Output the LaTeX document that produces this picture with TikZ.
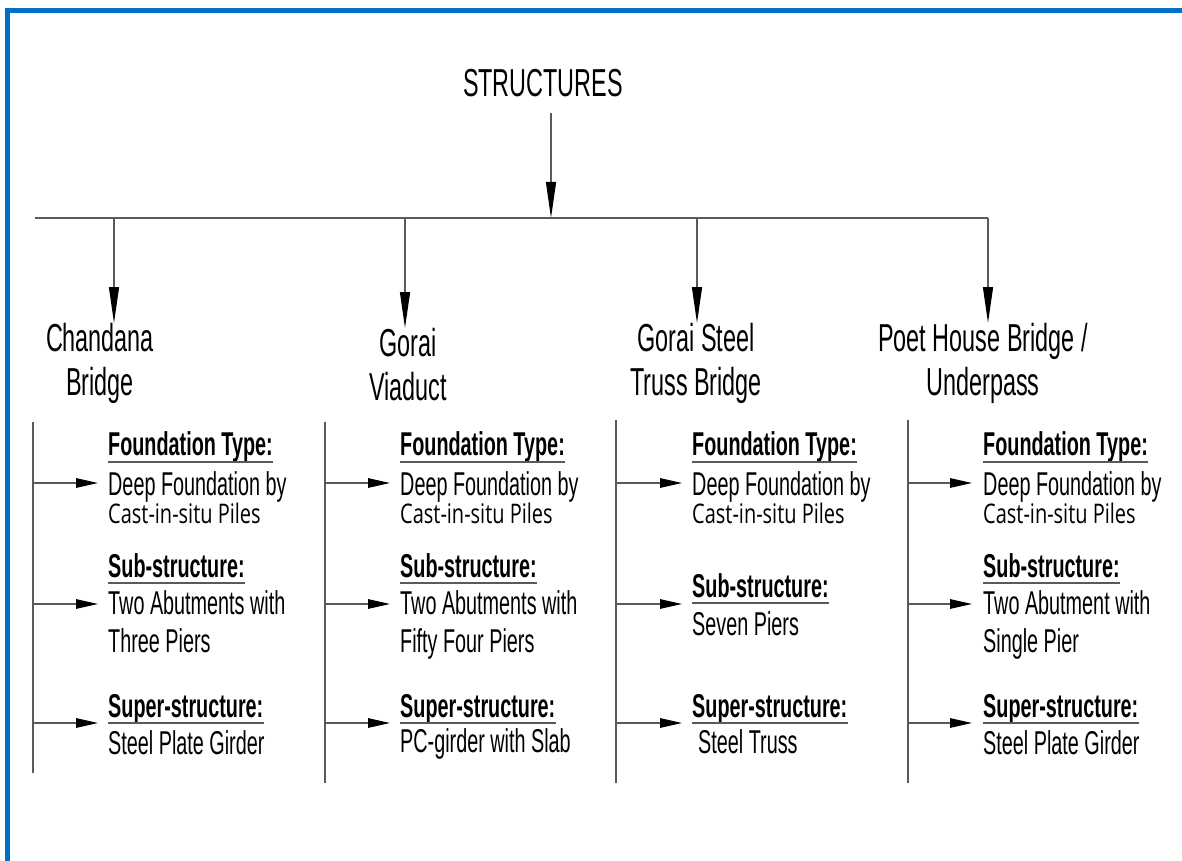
\documentclass[tikz,border=0pt]{standalone}
\usepackage{fontspec}
\setmainfont{Liberation Sans}
\newfontfamily\narrowfont[FakeStretch=0.6]{Liberation Sans}
\newfontfamily\pilefont[FakeStretch=0.74]{Open Sans}
\usetikzlibrary{arrows.meta}

\definecolor{framebl}{RGB}{0,114,198}
\definecolor{linegr}{RGB}{90,90,90}

\tikzset{
  wire/.style={draw=linegr, line width=1.3pt},
  drop/.style={wire, -{Triangle[length=36pt,width=10pt,color=black]}},
  feed/.style={wire, -{Triangle[length=22pt,width=9.5pt,color=black]}},
  ttl/.style={inner sep=0pt, align=center, font=\narrowfont\fontsize{39}{44}\selectfont},
  head/.style={inner sep=0pt, anchor=base west, font=\narrowfont\bfseries\fontsize{33}{38}\selectfont},
  body/.style={inner sep=0pt, anchor=base west, font=\narrowfont\fontsize{33}{38}\selectfont},
  pile/.style={inner sep=0pt, anchor=base west, font=\pilefont\fontsize{27}{30}\selectfont},
  uline/.style={draw=linegr, line width=1.6pt},
}

\begin{document}
\begin{tikzpicture}[x=1pt,y=-1pt]
	\useasboundingbox (0,0) rectangle (1182,861);
	% frame
	\fill[framebl] (5,8) rectangle (1182,13);
	\fill[framebl] (5,8) rectangle (10,861);

	% top level
	\node[ttl, anchor=base] (top) at (543,97) {STRUCTURES};
	\coordinate (hub) at (551,218);
	\coordinate (barl) at (35,218);
	\coordinate (barr) at (988,218);
	\draw[drop, shorten <=15pt] (hub |- top.south) -- (hub);
	\draw[wire] (barl) -- (barr);

	% bridges
	\node[ttl, anchor=north] (b1) at (100,323) {Chandana\\Bridge};
	\node[ttl, anchor=north] (b2) at (408,328) {Gorai\\Viaduct};
	\node[ttl, anchor=north] (b3) at (696,323) {Gorai Steel\\Truss Bridge};
	\node[ttl, anchor=north] (b4) at (983,323) {Poet House Bridge /\\Underpass};
	\coordinate (d1) at (114,218);
	\coordinate (d2) at (405,218);
	\coordinate (d3) at (697,218);
	\coordinate (d4) at (988,218);
	\draw[drop] (d1) -- (d1 |- b1.north);
	\draw[drop] (d2) -- (d2 |- b2.north);
	\draw[drop] (d3) -- (d3 |- b3.north);
	\draw[drop] (d4) -- (d4 |- b4.north);

	% column 1
	\coordinate (s1) at (33,422);
	\coordinate (e1) at (33,773);
	\draw[wire] (s1) -- (e1);
	\node[head] (f1) at (108,455) {Foundation Type:};
	\node[body] (f1a) at (108,495) {Deep Foundation by};
	\node[pile] (f1b) at (108,523) {Cast-in-situ Piles};
	\node[head] (u1) at (108,577) {Sub-structure:};
	\node[body] (u1a) at (108,614) {Two Abutments with};
	\node[body] (u1b) at (108,652) {Three Piers};
	\node[head] (p1) at (108,717) {Super-structure:};
	\node[body] (p1a) at (108,754) {Steel Plate Girder};
	\draw[uline] ([yshift=-7pt]f1.base west) -- ([yshift=-7pt]f1.base east);
	\draw[uline] ([yshift=-6pt]u1.base west) -- ([yshift=-6pt]u1.base east);
	\draw[uline] ([yshift=-6pt]p1.base west) -- ([yshift=-6pt]p1.base east);
	\coordinate (a1f) at (98,483);
	\coordinate (a1u) at (98,604);
	\coordinate (a1p) at (98,723);
	\draw[feed] (a1f -| s1) -- (a1f);
	\draw[feed] (a1u -| s1) -- (a1u);
	\draw[feed] (a1p -| s1) -- (a1p);

	% column 2
	\coordinate (s2) at (325,422);
	\coordinate (e2) at (325,783);
	\draw[wire] (s2) -- (e2);
	\node[head] (f2) at (400,455) {Foundation Type:};
	\node[body] (f2a) at (400,495) {Deep Foundation by};
	\node[pile] (f2b) at (400,523) {Cast-in-situ Piles};
	\node[head] (u2) at (400,577) {Sub-structure:};
	\node[body] (u2a) at (400,614) {Two Abutments with};
	\node[body] (u2b) at (400,652) {Fifty Four Piers};
	\node[head] (p2) at (400,717) {Super-structure:};
	\node[body] (p2a) at (400,752) {PC-girder with Slab};
	\draw[uline] ([yshift=-7pt]f2.base west) -- ([yshift=-7pt]f2.base east);
	\draw[uline] ([yshift=-6pt]u2.base west) -- ([yshift=-6pt]u2.base east);
	\draw[uline] ([yshift=-6pt]p2.base west) -- ([yshift=-6pt]p2.base east);
	\coordinate (a2f) at (390,483);
	\coordinate (a2u) at (390,604);
	\coordinate (a2p) at (390,723);
	\draw[feed] (a2f -| s2) -- (a2f);
	\draw[feed] (a2u -| s2) -- (a2u);
	\draw[feed] (a2p -| s2) -- (a2p);

	% column 3
	\coordinate (s3) at (616,420);
	\coordinate (e3) at (616,783);
	\draw[wire] (s3) -- (e3);
	\node[head] (f3) at (692,455) {Foundation Type:};
	\node[body] (f3a) at (692,495) {Deep Foundation by};
	\node[pile] (f3b) at (692,523) {Cast-in-situ Piles};
	\node[head] (u3) at (692,597) {Sub-structure:};
	\node[body] (u3a) at (692,635) {Seven Piers};
	\node[head] (p3) at (692,717) {Super-structure:};
	\node[body] (p3a) at (698,753) {Steel Truss};
	\draw[uline] ([yshift=-7pt]f3.base west) -- ([yshift=-7pt]f3.base east);
	\draw[uline] ([yshift=-6pt]u3.base west) -- ([yshift=-6pt]u3.base east);
	\draw[uline] ([yshift=-6pt]p3.base west) -- ([yshift=-6pt]p3.base east);
	\coordinate (a3f) at (682,483);
	\coordinate (a3u) at (682,604);
	\coordinate (a3p) at (682,723);
	\draw[feed] (a3f -| s3) -- (a3f);
	\draw[feed] (a3u -| s3) -- (a3u);
	\draw[feed] (a3p -| s3) -- (a3p);

	% column 4
	\coordinate (s4) at (908,420);
	\coordinate (e4) at (908,783);
	\draw[wire] (s4) -- (e4);
	\node[head] (f4) at (983,455) {Foundation Type:};
	\node[body] (f4a) at (983,495) {Deep Foundation by};
	\node[pile] (f4b) at (983,523) {Cast-in-situ Piles};
	\node[head] (u4) at (983,577) {Sub-structure:};
	\node[body] (u4a) at (983,614) {Two Abutment with};
	\node[body] (u4b) at (983,652) {Single Pier};
	\node[head] (p4) at (983,717) {Super-structure:};
	\node[body] (p4a) at (983,754) {Steel Plate Girder};
	\draw[uline] ([yshift=-7pt]f4.base west) -- ([yshift=-7pt]f4.base east);
	\draw[uline] ([yshift=-6pt]u4.base west) -- ([yshift=-6pt]u4.base east);
	\draw[uline] ([yshift=-6pt]p4.base west) -- ([yshift=-6pt]p4.base east);
	\coordinate (a4f) at (972,483);
	\coordinate (a4u) at (972,604);
	\coordinate (a4p) at (972,723);
	\draw[feed] (a4f -| s4) -- (a4f);
	\draw[feed] (a4u -| s4) -- (a4u);
	\draw[feed] (a4p -| s4) -- (a4p);
\end{tikzpicture}
\end{document}
